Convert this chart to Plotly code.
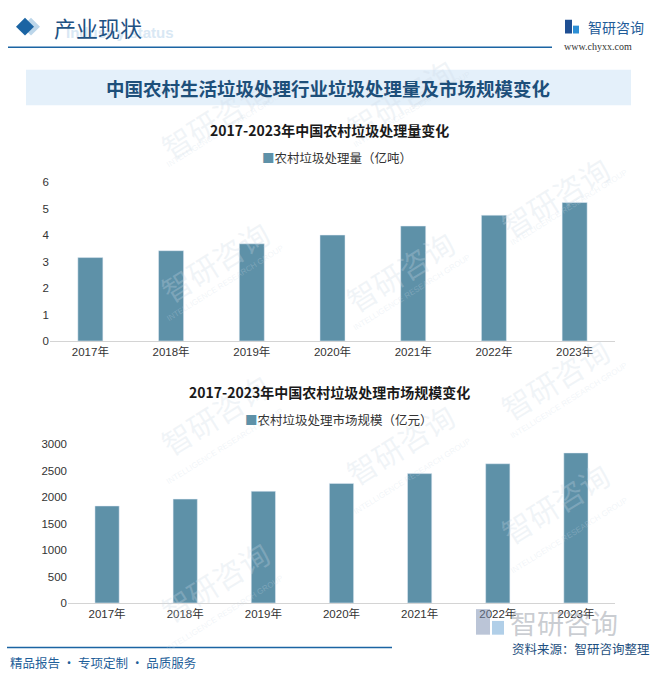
import plotly.graph_objects as go

years = ["2017年", "2018年", "2019年", "2020年", "2021年", "2022年", "2023年"]
volume = [3.15, 3.41, 3.67, 4.0, 4.34, 4.75, 5.23]
market = [1831, 1961, 2109, 2258, 2443, 2629, 2833]
volume_name = "农村垃圾处理量（亿吨）"
market_name = "农村垃圾处理市场规模（亿元）"
title1 = "2017-2023年中国农村垃圾处理量变化"
title2 = "2017-2023年中国农村垃圾处理市场规模变化"
main_title = "中国农村生活垃圾处理行业垃圾处理量及市场规模变化"
vol_ticks = [0, 1, 2, 3, 4, 5, 6]
mkt_ticks = [0, 500, 1000, 1500, 2000, 2500, 3000]

W, H = 658, 678
BAR = "#5e91a8"
FONT = "Liberation Sans, Noto Sans CJK SC, sans-serif"
CJK = "Noto Sans CJK SC, sans-serif"

def px(x):
    return x / W

def py(y):
    return 1 - y / H

fig = go.Figure()
fig.add_trace(go.Bar(x=years, y=volume, name=volume_name, marker_color=BAR,
                     xaxis="x", yaxis="y", showlegend=False))
fig.add_trace(go.Bar(x=years, y=market, name=market_name, marker_color=BAR,
                     xaxis="x2", yaxis="y2", showlegend=False))

axis_common = dict(showgrid=False, zeroline=False, ticks="",
                   tickfont=dict(family=FONT, size=11.5, color="#333333"))
fig.update_layout(
    width=W, height=H,
    margin=dict(l=0, r=0, t=0, b=0),
    paper_bgcolor="white", plot_bgcolor="rgba(0,0,0,0)",
    bargap=0.69,
    xaxis=dict(domain=[px(50), px(615)], anchor="y", showline=True,
               linecolor="#d4d4d4", linewidth=1, **axis_common),
    yaxis=dict(domain=[py(341), py(179.3)], anchor="x", range=[0, 6],
               tickvals=vol_ticks, showline=False, **axis_common),
    xaxis2=dict(domain=[px(68), px(615)], anchor="y2", showline=True,
                linecolor="#d4d4d4", linewidth=1, **axis_common),
    yaxis2=dict(domain=[py(607.7), py(446)], anchor="x2", range=[0, 3000],
                tickvals=mkt_ticks, showline=False, **axis_common),
    showlegend=False,
)

shapes = []
annotations = []

# faint watermarks
wm_color = "rgba(205,218,230,0.28)"
for (x, y) in [(150, 60), (400, 40), (620, 140), (150, 260), (400, 270),
               (620, 380), (150, 470), (400, 500), (150, 640), (620, 560)]:
    annotations.append(dict(x=px(x), y=py(y), xref="paper", yref="paper",
                            text="智研咨询", showarrow=False, textangle=-32,
                            font=dict(family=CJK, size=30, color=wm_color)))
    annotations.append(dict(x=px(x + 12), y=py(y + 22), xref="paper", yref="paper",
                            text="INTELLIGENCE RESEARCH GROUP", showarrow=False,
                            textangle=-32,
                            font=dict(family=FONT, size=8, color=wm_color)))

# header
shapes.append(dict(type="path", xref="paper", yref="paper",
                   path=f"M {px(22)} {py(21)} L {px(31)} {py(12)} L {px(40)} {py(21)} L {px(31)} {py(30)} Z",
                   fillcolor="#bcd6ea", line=dict(width=0)))
shapes.append(dict(type="path", xref="paper", yref="paper",
                   path=f"M {px(16)} {py(21)} L {px(25)} {py(12)} L {px(34)} {py(21)} L {px(25)} {py(30)} Z",
                   fillcolor="#1b64a3", line=dict(width=0)))
annotations.append(dict(x=px(64), y=py(27), xref="paper", yref="paper",
                        xanchor="left", yanchor="middle", text="<b>Industry status</b>",
                        showarrow=False,
                        font=dict(family=FONT, size=15, color="#d9e8f4")))
annotations.append(dict(x=px(52), y=py(21), xref="paper", yref="paper",
                        xanchor="left", yanchor="middle", text="产业现状",
                        showarrow=False,
                        font=dict(family=CJK, size=22, color="#1f5283")))
shapes.append(dict(type="line", xref="paper", yref="paper",
                   x0=px(8), x1=px(552), y0=py(42), y1=py(42),
                   line=dict(color="#1b64a3", width=1.5)))

# logo top right
shapes.append(dict(type="rect", xref="paper", yref="paper",
                   x0=px(565), x1=px(572), y0=py(28), y1=py(14),
                   fillcolor="#1f4f93", line=dict(width=0)))
shapes.append(dict(type="rect", xref="paper", yref="paper",
                   x0=px(573), x1=px(579), y0=py(28), y1=py(20),
                   fillcolor="#2d8fd5", line=dict(width=0)))
annotations.append(dict(x=px(586), y=py(21), xref="paper", yref="paper",
                        xanchor="left", yanchor="middle", text="智研咨询",
                        showarrow=False,
                        font=dict(family=CJK, size=14, color="#1f5c99")))
annotations.append(dict(x=px(562), y=py(41), xref="paper", yref="paper",
                        xanchor="left", yanchor="middle", text="www.chyxx.com",
                        showarrow=False,
                        font=dict(family="Liberation Serif, serif", size=10, color="#333333")))

# banner
shapes.append(dict(type="rect", xref="paper", yref="paper", layer="below",
                   x0=px(26), x1=px(631), y0=py(101), y1=py(65),
                   fillcolor="#e4f0fa", line=dict(width=0)))
annotations.append(dict(x=px(328), y=py(83), xref="paper", yref="paper",
                        xanchor="center", yanchor="middle", text=f"<b>{main_title}</b>",
                        showarrow=False,
                        font=dict(family=CJK, size=18.5, color="#1d4f7a")))

# chart titles
annotations.append(dict(x=px(329), y=py(126), xref="paper", yref="paper",
                        xanchor="center", yanchor="middle", text=f"<b>{title1}</b>",
                        showarrow=False,
                        font=dict(family=CJK, size=14, color="#1a1a1a")))
annotations.append(dict(x=px(329), y=py(393), xref="paper", yref="paper",
                        xanchor="center", yanchor="middle", text=f"<b>{title2}</b>",
                        showarrow=False,
                        font=dict(family=CJK, size=14, color="#1a1a1a")))

# legends
annotations.append(dict(x=px(260), y=py(154), xref="paper", yref="paper",
                        xanchor="left", yanchor="middle",
                        text=f"<span style='color:{BAR}'>■</span>{volume_name}",
                        showarrow=False,
                        font=dict(family=CJK, size=12.5, color="#333333")))
annotations.append(dict(x=px(243), y=py(421), xref="paper", yref="paper",
                        xanchor="left", yanchor="middle",
                        text=f"<span style='color:{BAR}'>■</span>{market_name}",
                        showarrow=False,
                        font=dict(family=CJK, size=12.5, color="#333333")))

# bottom watermark logo
shapes.append(dict(type="rect", xref="paper", yref="paper",
                   x0=px(476), x1=px(490), y0=py(640), y1=py(614),
                   fillcolor="rgba(120,140,175,0.5)", line=dict(width=0)))
shapes.append(dict(type="rect", xref="paper", yref="paper",
                   x0=px(492), x1=px(504), y0=py(640), y1=py(626),
                   fillcolor="rgba(100,160,210,0.5)", line=dict(width=0)))
annotations.append(dict(x=px(508), y=py(628), xref="paper", yref="paper",
                        xanchor="left", yanchor="middle", text="智研咨询",
                        showarrow=False,
                        font=dict(family=CJK, size=27, color="rgba(150,155,165,0.5)")))

# footer
shapes.append(dict(type="line", xref="paper", yref="paper",
                   x0=px(7), x1=px(392), y0=py(653), y1=py(653),
                   line=dict(color="#1b64a3", width=1.5)))
annotations.append(dict(x=px(8), y=py(668), xref="paper", yref="paper",
                        xanchor="left", yanchor="middle", text="精品报告 · 专项定制 · 品质服务",
                        showarrow=False,
                        font=dict(family=CJK, size=12.5, color="#1f5f9a")))
annotations.append(dict(x=px(652), y=py(654), xref="paper", yref="paper",
                        xanchor="right", yanchor="middle", text="资料来源：智研咨询整理",
                        showarrow=False,
                        font=dict(family=CJK, size=12.5, color="#1e4f80")))

fig.update_layout(shapes=shapes, annotations=annotations)
fig.write_html("out.html")
